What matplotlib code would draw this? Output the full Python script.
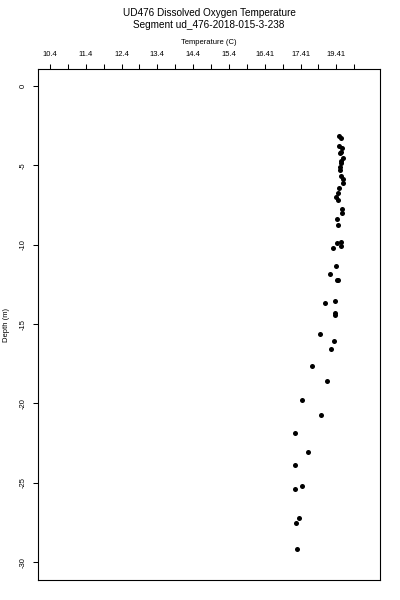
import matplotlib
matplotlib.use("Agg")
import matplotlib.pyplot as plt

plt.rcParams["font.family"] = ["Liberation Sans", "DejaVu Sans"]

temperature = [18.47, 18.53, 18.48, 18.55, 18.52, 18.50, 18.59, 18.52, 18.52, 18.50,
               18.50, 18.53, 18.59, 18.59, 18.47, 18.45, 18.38, 18.44, 18.56, 18.56,
               18.41, 18.44, 18.52, 18.41, 18.53, 18.31, 18.39, 18.22, 18.41, 18.45,
               18.36, 18.08, 18.36, 18.36, 17.94, 18.34, 18.25, 17.73, 18.15, 17.45,
               17.97, 17.25, 17.62, 17.25, 17.45, 17.25, 17.36, 17.26, 17.31]
depth = [-3.15, -3.30, -3.78, -3.93, -4.18, -4.24, -4.52, -4.71, -4.87, -5.09,
         -5.29, -5.67, -5.86, -6.13, -6.45, -6.72, -6.98, -7.18, -7.77, -8.02,
         -8.40, -8.78, -9.81, -9.91, -10.06, -10.19, -11.32, -11.86, -12.22, -12.22,
         -13.53, -13.65, -14.28, -14.46, -15.65, -16.07, -16.57, -17.62, -18.59, -19.77,
         -20.73, -21.85, -23.04, -23.88, -25.19, -25.39, -27.20, -27.56, -29.17]

x_ticks = [10.4 + 0.5 * k for k in range(18)]
x_tick_labels = ["10.4", "", "11.4", "", "12.4", "", "13.4", "", "14.4", "",
                 "15.4", "", "16.41", "", "17.41", "", "19.41", ""]
y_ticks = [0, -5, -10, -15, -20, -25, -30]

fig = plt.figure(figsize=(4, 6), dpi=100)
ax = fig.add_axes([0.095, 0.0333, 0.855, 0.8517])
ax.scatter(temperature, depth, s=13, c="black", linewidths=0)

ax.set_xlim(10.065, 19.62)
ax.set_ylim(-31.13, 1.07)
ax.xaxis.tick_top()
ax.xaxis.set_label_position("top")
ax.set_xticks(x_ticks)
ax.set_xticklabels(x_tick_labels, fontsize=5.5)
ax.set_yticks(y_ticks)
ax.set_yticklabels([str(v) for v in y_ticks], fontsize=5.5, rotation=90, va="center")
ax.tick_params(axis="both", length=3.6, width=0.75, pad=4.5, direction="out")
for s in ax.spines.values():
    s.set_linewidth(0.8)

ax.set_xlabel("Temperature (C)", fontsize=5.5, labelpad=5)
ax.set_ylabel("Depth (m)", fontsize=5.5, labelpad=7)
fig.text(0.5225, 0.979, "UD476 Dissolved Oxygen Temperature", ha="center", va="center", fontsize=7.2)
fig.text(0.5225, 0.958, "Segment ud_476-2018-015-3-238", ha="center", va="center", fontsize=7.2)

fig.savefig("out.png", dpi=100)
